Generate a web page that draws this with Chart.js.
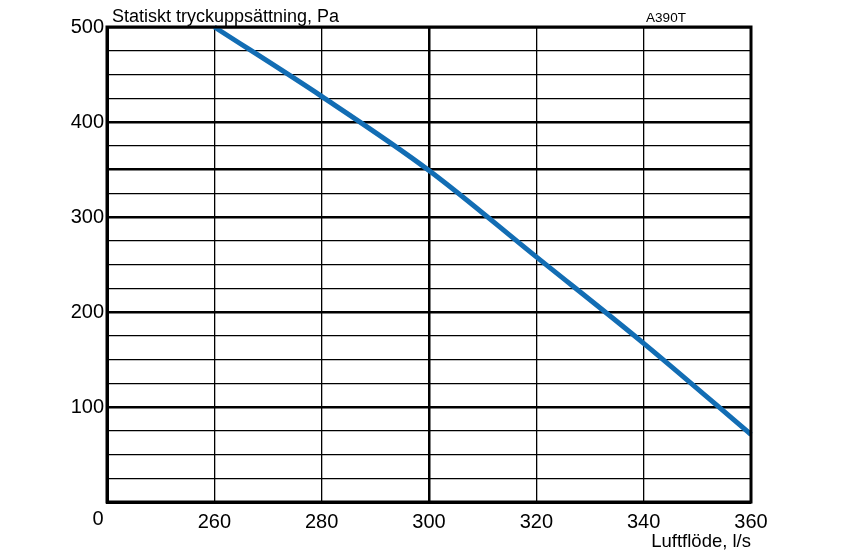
<!DOCTYPE html>
<html><head><meta charset="utf-8">
<script src="https://cdn.jsdelivr.net/npm/chart.js@4"></script>
<style>html,body{margin:0;padding:0;background:#fff}#wrap{width:861px;height:555px}</style>
</head><body><div id="wrap"><canvas id="c"></canvas></div>
<script>
const flow = [260, 280, 300, 320, 340, 360];
const pressure = [500, 427, 349, 258, 167, 71];
const xTicks = [240, 260, 280, 300, 320, 340, 360];
const yLabelled = [100, 200, 300, 400, 500];
const yThick = [100, 200, 300, 350, 400, 500];
const originLabel = '0';
const titleText = 'Statiskt tryckuppsättning, Pa';
const modelText = 'A390T';
const xTitle = 'Luftflöde, l/s';

const FONT = 'Liberation Sans, Arial, sans-serif';

const textPlugin = {
  id: 'texts',
  afterDraw(chart) {
    const ctx = chart.ctx, a = chart.chartArea;
    ctx.save();
    ctx.fillStyle = '#000';
    ctx.textBaseline = 'alphabetic';
    ctx.font = '18px ' + FONT;
    ctx.textAlign = 'left';
    ctx.fillText(titleText, a.left + 5, a.top - 5);
    ctx.font = '13.5px ' + FONT;
    ctx.textAlign = 'center';
    ctx.fillText(modelText, a.left + (a.right - a.left) * 0.868, a.top - 5);
    ctx.font = '20px ' + FONT;
    ctx.textBaseline = 'middle';
    ctx.fillText(originLabel, a.left - 9, a.bottom + 17);
    ctx.restore();
  }
};

new Chart(document.getElementById('c'), {
  type: 'line',
  data: {
    datasets: [{
      data: flow.map((x, i) => ({x, y: pressure[i]})),
      borderColor: '#126db4',
      borderWidth: 5,
      pointRadius: 0,
      cubicInterpolationMode: 'monotone',
      clip: false
    }]
  },
  options: {
    responsive: true,
    maintainAspectRatio: false,
    animation: false,
    devicePixelRatio: 1,
    layout: {padding: {left: 0, right: 110, top: 27, bottom: 2}},
    plugins: {legend: {display: false}, tooltip: {enabled: false}, title: {display: false}},
    scales: {
      x: {
        type: 'linear', min: 240, max: 360,
        afterBuildTicks: s => { s.ticks = xTicks.map(v => ({value: v})); },
        afterFit: s => { s.height = 51; },
        grid: {
          drawTicks: false, color: '#000',
          lineWidth: c => c.tick && c.tick.value === 300 ? 2.5 : 1.3
        },
        border: {display: true, color: '#000', width: 3},
        ticks: {
          padding: 8, color: '#000', font: {family: FONT, size: 20}, maxRotation: 0,
          callback: v => v === 240 ? '' : String(v)
        },
        title: {display: true, text: xTitle, align: 'end', color: '#000', font: {family: FONT, size: 18.5}, padding: {top: 0, bottom: 0}}
      },
      y: {
        type: 'linear', min: 0, max: 500,
        ticks: {
          stepSize: 25, padding: 3, color: '#000', font: {family: FONT, size: 20},
          autoSkip: false,
          callback: v => yLabelled.includes(v) ? String(v) : ''
        },
        afterFit: s => { s.width = 107; },
        grid: {
          drawTicks: false, color: '#000',
          lineWidth: c => c.tick && yThick.includes(c.tick.value) ? 2.5 : 1.3
        },
        border: {display: true, color: '#000', width: 3}
      }
    }
  },
  plugins: [textPlugin, {
    id: 'frame',
    afterDatasetsDraw(chart) {
      const ctx = chart.ctx, a = chart.chartArea;
      ctx.save();
      ctx.strokeStyle = '#000';
      ctx.lineWidth = 3;
      ctx.strokeRect(a.left, a.top, a.right - a.left, a.bottom - a.top);
      ctx.restore();
    }
  }]
});
</script></body></html>
